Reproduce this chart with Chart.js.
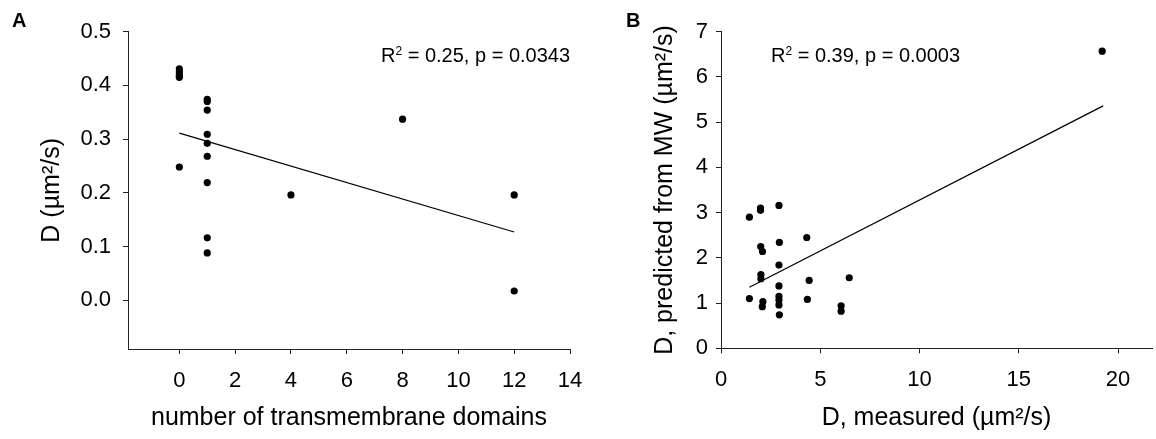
<!DOCTYPE html>
<html>
<head>
<meta charset="utf-8">
<script src="https://cdn.jsdelivr.net/npm/chart.js@4.4.1/dist/chart.umd.min.js"></script>
<style>
    body { margin: 0; background: #fff; }
    #wrap { position: relative; width: 1156px; height: 439px; overflow: hidden; font-family: "Liberation Sans", Arial, sans-serif; color: #000; }
    .box { position: absolute; top: 0; height: 439px; }
    #boxA { left: 0; width: 600px; }
    #boxB { left: 600px; width: 556px; }
    .panel { position: absolute; font-weight: bold; font-size: 20px; line-height: 20px; }
    .note { position: absolute; font-size: 20px; line-height: 20px; white-space: nowrap; }
    .note sup { font-size: 0.6em; line-height: 0; vertical-align: 0.6em; }
</style>
</head>
<body>
<div id="wrap">
    <div class="box" id="boxA"><canvas id="chartA"></canvas></div>
    <div class="box" id="boxB"><canvas id="chartB"></canvas></div>
    <div class="panel" style="left:12px; top:10px;">A</div>
    <div class="panel" style="left:626px; top:10px;">B</div>
    <div class="note" style="left:381px; top:45px;">R<sup>2</sup> = 0.25, p = 0.0343</div>
    <div class="note" style="left:771px; top:45px;">R<sup>2</sup> = 0.39, p = 0.0003</div>
</div>
<script>
// Panel A: D vs number of transmembrane domains
const tmDomains = [0, 0, 0, 0, 0, 1, 1, 1, 1, 1, 1, 1, 1, 1, 4, 8, 12, 12];
const diffusionA = [0.431, 0.425, 0.419, 0.415, 0.248, 0.374, 0.370, 0.354, 0.309, 0.292, 0.268, 0.219, 0.116, 0.088, 0.196, 0.337, 0.196, 0.017];
const fitAx = [0, 12];
const fitAy = [0.311, 0.127];
const ticksAx = [0, 2, 4, 6, 8, 10, 12, 14];
const ticksAy = [0, 0.1, 0.2, 0.3, 0.4, 0.5];

// Panel B: predicted vs measured D
const measuredB = [1.43, 1.99, 1.99, 2.92, 2.00, 2.09, 2.94, 4.32, 2.92, 2.01, 2.01, 2.92, 4.44, 6.46, 1.43, 2.11, 2.08, 2.92, 2.92, 2.92, 2.94, 4.35, 6.05, 6.05, 19.2];
const predictedB = [2.90, 3.05, 3.10, 3.16, 2.25, 2.14, 2.34, 2.45, 1.84, 1.63, 1.54, 1.38, 1.50, 1.56, 1.10, 1.03, 0.92, 1.15, 1.07, 0.96, 0.74, 1.08, 0.94, 0.82, 6.57];
const fitBx = [1.43, 19.25];
const fitBy = [1.35, 5.36];
const ticksBx = [0, 5, 10, 15, 20];
const ticksBy = [0, 1, 2, 3, 4, 5, 6, 7];

const FONT = "'Liberation Sans', Arial, sans-serif";
const AXIS_COLOR = "#222";

function toPoints(xs, ys) {
    return xs.map((x, i) => ({ x: x, y: ys[i] }));
}

function axis(opts) {
    // One plain axis: black line, short outside ticks, no grid
    return {
        type: "linear",
        min: opts.min,
        max: opts.max,
        afterBuildTicks: scale => {
            scale.ticks = opts.ticks.map(v => ({ value: v }));
        },
        afterFit: scale => {
            if (opts.width) scale.width = opts.width;
            if (opts.height) scale.height = opts.height;
        },
        border: { display: true, color: AXIS_COLOR, width: 1 },
        grid: { drawOnChartArea: false, drawTicks: true, tickLength: 5, color: AXIS_COLOR },
        ticks: {
            color: "#000",
            padding: opts.padding,
            font: { family: FONT, size: 22 },
            callback: opts.format
        },
        title: {
            display: true,
            text: opts.title,
            color: "#000",
            font: { family: FONT, size: 25 },
            padding: opts.titlePadding
        }
    };
}

function makeChart(id, points, fit, xAxis, yAxis, padding) {
    const ctx = document.getElementById(id).getContext("2d");
    return new Chart(ctx, {
        type: "scatter",
        data: {
            datasets: [
                {
                    data: points,
                    backgroundColor: "#000",
                    borderColor: "#000",
                    pointRadius: 3.6,
                    pointBorderWidth: 0
                },
                {
                    type: "line",
                    data: fit,
                    borderColor: "#000",
                    borderWidth: 1.2,
                    pointRadius: 0,
                    fill: false
                }
            ]
        },
        options: {
            responsive: true,
            maintainAspectRatio: false,
            animation: false,
            layout: { padding: padding },
            plugins: { legend: { display: false }, tooltip: { enabled: false } },
            scales: { x: xAxis, y: yAxis }
        }
    });
}

makeChart(
    "chartA",
    toPoints(tmDomains, diffusionA),
    toPoints(fitAx, fitAy),
    axis({
        min: -1.84, max: 14, ticks: ticksAx, height: 90, padding: 13.5,
        format: v => String(v),
        title: "number of transmembrane domains",
        titlePadding: { top: 0, bottom: 6 }
    }),
    axis({
        min: -0.091, max: 0.5, ticks: ticksAy, width: 128, padding: 12,
        format: v => v.toFixed(1),
        title: "D (\u00b5m\u00b2/s)",
        titlePadding: { top: 37, bottom: 0 }
    }),
    { top: 31.7, right: 30, bottom: 0, left: 0 }
);

makeChart(
    "chartB",
    toPoints(measuredB, predictedB),
    toPoints(fitBx, fitBy),
    axis({
        min: 0, max: 21.71, ticks: ticksBx, height: 90.7, padding: 13.5,
        format: v => String(v),
        title: "D, measured (\u00b5m\u00b2/s)",
        titlePadding: { top: 0, bottom: 6 }
    }),
    axis({
        min: 0, max: 7, ticks: ticksBy, width: 121, padding: 8,
        format: v => String(v),
        title: "D, predicted from MW (\u00b5m\u00b2/s)",
        titlePadding: { top: 49.7, bottom: 0 }
    }),
    { top: 31.7, right: 0, bottom: 0, left: 0 }
);
</script>
</body>
</html>
